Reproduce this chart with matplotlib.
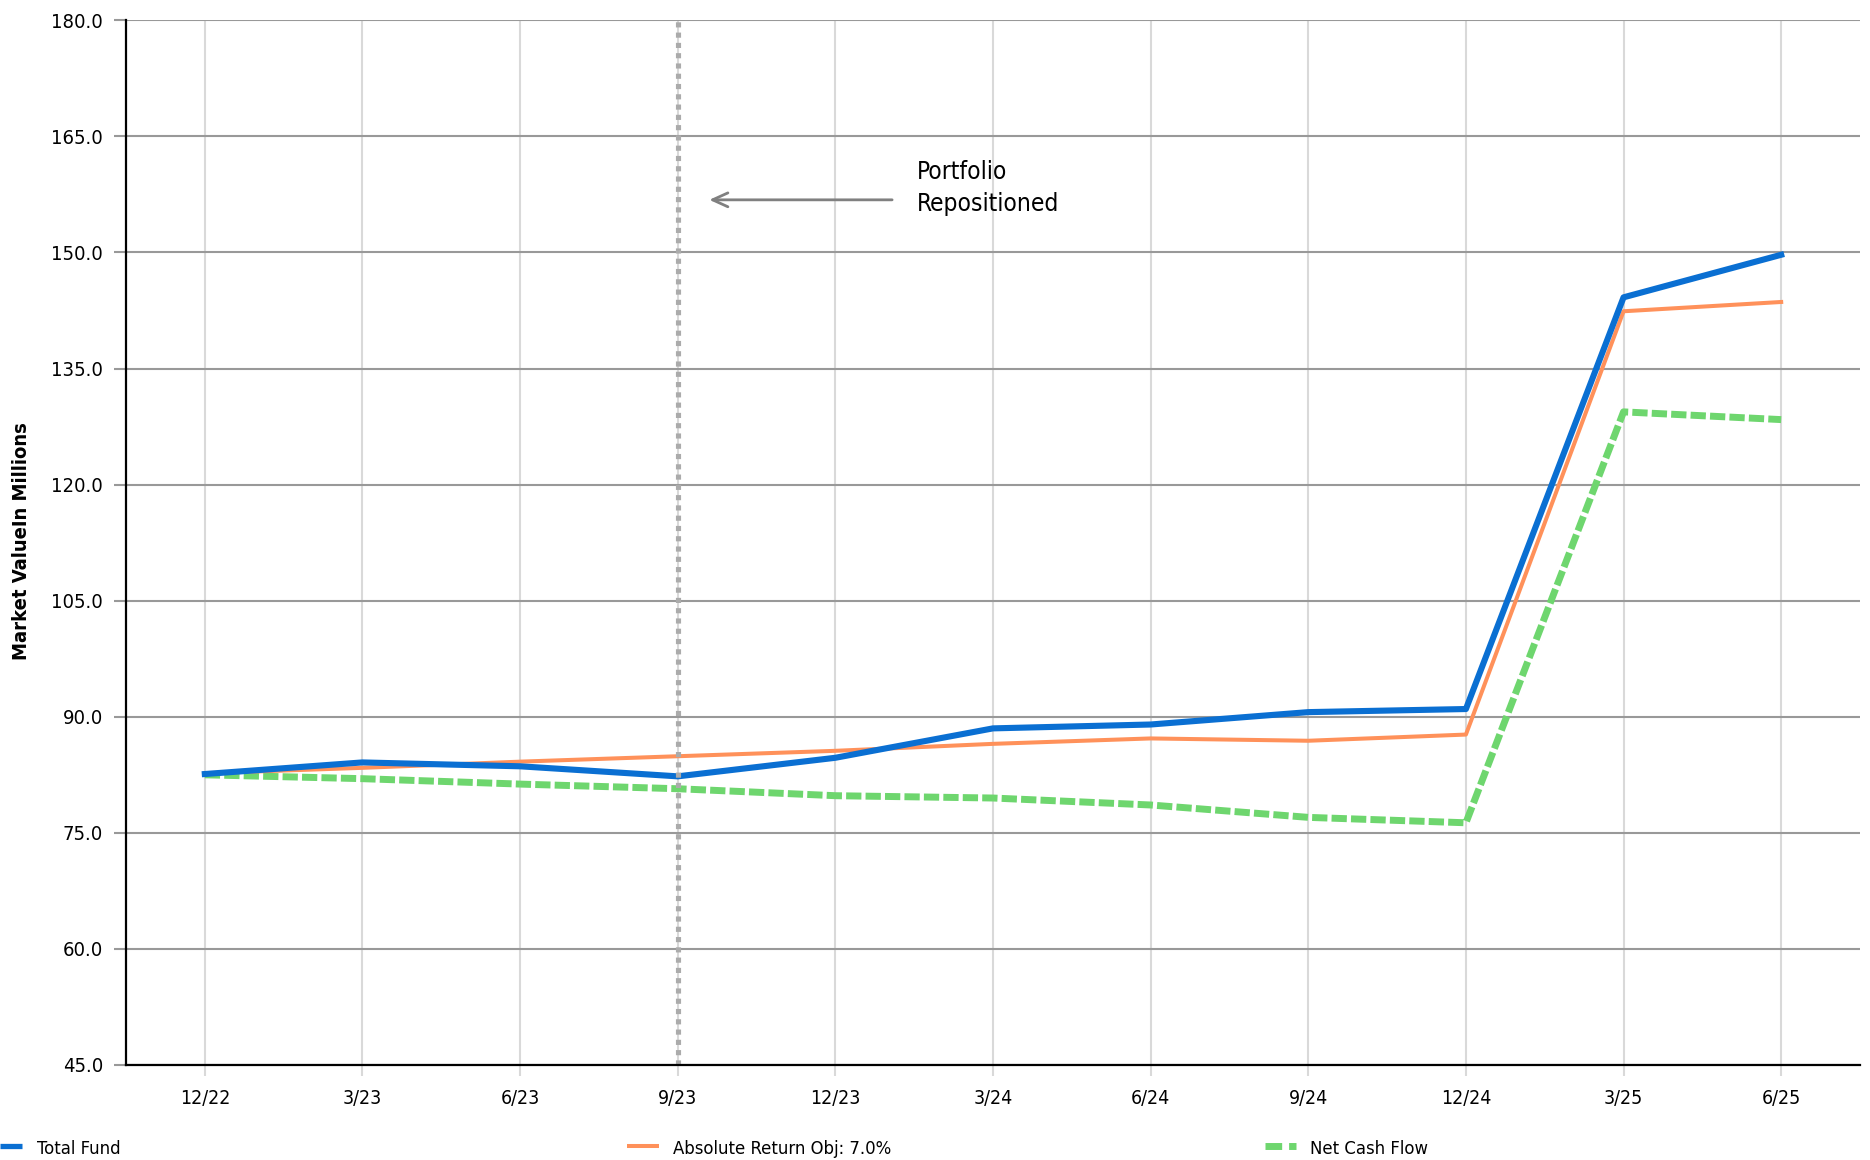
import matplotlib
matplotlib.use("Agg")
import matplotlib.pyplot as plt
from matplotlib import font_manager as fm
from matplotlib.lines import Line2D

# ---------------- data ----------------
quarters = ["12/22", "3/23", "6/23", "9/23", "12/23", "3/24", "6/24", "9/24", "12/24", "3/25", "6/25"]
total_fund = [82.6, 84.1, 83.6, 82.3, 84.7, 88.5, 89.0, 90.6, 91.0, 144.2, 149.7]
abs_return = [82.7, 83.4, 84.2, 84.9, 85.6, 86.5, 87.2, 86.9, 87.7, 142.4, 143.6]
net_cash_flow = [82.5, 82.0, 81.3, 80.7, 79.8, 79.5, 78.6, 77.0, 76.3, 129.4, 128.4]
y_ticks = [45.0, 60.0, 75.0, 90.0, 105.0, 120.0, 135.0, 150.0, 165.0, 180.0]
series_labels = ["Total Fund", "Absolute Return Obj: 7.0%", "Net Cash Flow"]
reposition_index = 3
annotation_text = "Portfolio\nRepositioned"
y_label = "Market ValueIn Millions"

# ---------------- fonts ----------------
names = {f.name for f in fm.fontManager.ttflist}
if "Liberation Sans Narrow" in names:
    FONT = dict(family="Liberation Sans Narrow")
    SCALE = 1.0
else:
    FONT = dict(family="DejaVu Sans", stretch="condensed")
    SCALE = 0.88

BLUE = "#0A6FD2"
ORANGE = "#FF915A"
GREEN = "#6ED66E"
GRID_H = "#999999"
GRID_V = "#D9D9D9"

fig = plt.figure(figsize=(18.7, 11.6), dpi=100)
ax = fig.add_axes([126 / 1870, 1 - 1065 / 1160, (1860 - 126) / 1870, (1065 - 20.3) / 1160])

x = list(range(len(quarters)))

ax.plot(x, net_cash_flow, color=GREEN, lw=5.0, dashes=(2.2, 0.6), solid_capstyle="butt",
        dash_capstyle="butt", zorder=3)
ax.plot(x, abs_return, color=ORANGE, lw=2.9, zorder=4)
ax.plot(x, total_fund, color=BLUE, lw=4.4, zorder=5)

ax.axvline(reposition_index, color="#ABABAB", lw=3.7, dashes=(1.0, 1.0), zorder=6)

ax.set_xlim(-0.5, len(quarters) - 0.5)
ax.set_ylim(y_ticks[0], y_ticks[-1])
ax.set_yticks(y_ticks)
ax.set_yticklabels([f"{v:.1f}" for v in y_ticks], fontsize=16.5 * SCALE, **FONT)
ax.set_xticks(x)
ax.set_xticklabels(quarters, fontsize=16.0 * SCALE, **FONT)

ax.grid(axis="y", color=GRID_H, lw=1.5, zorder=1)
ax.grid(axis="x", color=GRID_V, lw=1.5, zorder=1)
ax.set_axisbelow(True)

for s in ["top", "right"]:
    ax.spines[s].set_visible(False)
for s in ["left", "bottom"]:
    ax.spines[s].set_color("black")
    ax.spines[s].set_linewidth(1.6)
    ax.spines[s].set_zorder(7)

ax.tick_params(axis="y", length=8.6, width=1.5, color=GRID_H, pad=8, labelcolor="black")
ax.tick_params(axis="x", length=8, width=1.5, color=GRID_V, pad=9, labelcolor="black")

fig.text(22 / 1870, 1 - 541 / 1160, y_label, rotation=90, ha="center", va="center",
         fontsize=14.5, fontweight="bold", **FONT)

# annotation
ax.annotate("", xy=(3.2, 156.8), xytext=(4.36, 156.8),
            arrowprops=dict(arrowstyle="->,head_length=1.1,head_width=0.5", color="#808080", lw=2.0,
                            shrinkA=0, shrinkB=0))
ax.text(4.52, 158.3, annotation_text, ha="left", va="center", fontsize=20.0 * SCALE,
        linespacing=1.42, **FONT)

# legend (manual, figure coordinates)
ly = 1 - 1146 / 1160
tb = 1 - 1154 / 1160
LFS = 15.0 * SCALE
fig.add_artist(Line2D([0 / 1870, 22 / 1870], [ly, ly], transform=fig.transFigure,
                      color=BLUE, lw=3.8, solid_capstyle="butt"))
fig.text(37 / 1870, tb, series_labels[0], fontsize=LFS, va="baseline", ha="left", **FONT)
fig.add_artist(Line2D([627 / 1870, 659 / 1870], [ly, ly], transform=fig.transFigure,
                      color=ORANGE, lw=2.9, solid_capstyle="butt"))
fig.text(673 / 1870, tb, series_labels[1], fontsize=LFS, va="baseline", ha="left", **FONT)
fig.add_artist(Line2D([1265 / 1870, 1296 / 1870], [ly, ly], transform=fig.transFigure,
                      color=GREEN, lw=5.0, dashes=(2.4, 1.0), dash_capstyle="butt"))
fig.text(1310 / 1870, tb, series_labels[2], fontsize=LFS, va="baseline", ha="left", **FONT)

fig.savefig("out.png", dpi=100)
